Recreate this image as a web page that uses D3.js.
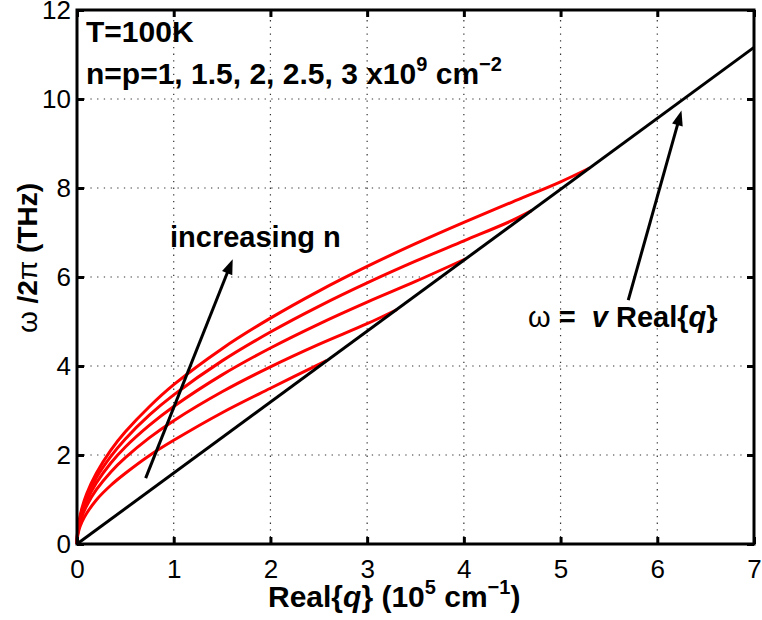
<!DOCTYPE html>
<html>
<head>
<meta charset="utf-8">
<script src="https://cdn.jsdelivr.net/npm/d3@7"></script>
<style>
body { margin: 0; background: #fff; }
text { font-family: "Liberation Sans", Arial, Helvetica, sans-serif; fill: #000; }
</style>
</head>
<body>
<div id="chart"></div>
<script>
// wavevector samples (10^5 cm^-1) shared by the red curves
const qGrid = [0, 0.005, 0.02, 0.05, 0.1, 0.2, 0.35, 0.5, 0.75, 1, 1.5, 2, 2.5, 3, 3.5, 4, 4.5, 5]

// omega/2pi (THz) for n=p = 1, 1.5, 2, 2.5, 3 x10^9 cm^-2
const omegaN1 = [0, 0.154, 0.31, 0.49, 0.69, 0.99, 1.32, 1.59, 1.99, 2.33, 2.95, 3.5]
const omegaN15 = [0, 0.19, 0.385, 0.61, 0.86, 1.22, 1.62, 1.94, 2.39, 2.77, 3.42, 3.98, 4.485, 4.95]
const omegaN2 = [0, 0.217, 0.43, 0.69, 0.97, 1.37, 1.82, 2.18, 2.67, 3.09, 3.8, 4.405, 4.943, 5.436, 5.9]
const omegaN25 = [0, 0.236, 0.47, 0.745, 1.05, 1.49, 1.97, 2.36, 2.9, 3.35, 4.115, 4.764, 5.341, 5.867, 6.355, 6.812, 7.27]
const omegaN3 = [0, 0.25, 0.5, 0.8, 1.13, 1.59, 2.11, 2.52, 3.09, 3.58, 4.39, 5.075, 5.684, 6.238, 6.749, 7.228, 7.685, 8.14]

// where each curve meets the omega = v q line
const qEnd = [2.58, 3.31, 4.02, 4.7, 5.3]
const omegaEnd = [4.12, 5.27, 6.41, 7.49, 8.45]

// omega = v Real{q}
const lineQ = [0, 7]
const lineOmega = [0, 11.16]

// annotation arrows: [tail, head] in data units
const arrowIncreasing = [[0.71, 1.48], [1.61, 6.4]]
const arrowLine = [[5.7, 5.48], [6.25, 9.74]]

const xTicks = [0, 1, 2, 3, 4, 5, 6, 7]
const yTicks = [0, 2, 4, 6, 8, 10, 12]

const width = 762, height = 620
const margin = { left: 77, right: 8, top: 10, bottom: 76 }

const svg = d3.select("#chart").append("svg").attr("width", width).attr("height", height)

const x = d3.scaleLinear().domain([0, 7]).range([margin.left, width - margin.right])
const y = d3.scaleLinear().domain([0, 12]).range([height - margin.bottom, margin.top])

// dotted grid
const grid = svg.append("g")
grid.selectAll(".gx")
	.data(xTicks.slice(1, -1))
	.enter()
	.append("line")
	.attr("x1", d => x(d)).attr("x2", d => x(d))
	.attr("y1", y(0)).attr("y2", y(12))
grid.selectAll(".gy")
	.data(yTicks.slice(1, -1))
	.enter()
	.append("line")
	.attr("y1", d => y(d)).attr("y2", d => y(d))
	.attr("x1", x(0)).attr("x2", x(7))
grid.selectAll("line")
	.attr("stroke", "#333")
	.attr("stroke-width", 1.2)
	.attr("stroke-dasharray", "1.3,5.4")

// curves
const curves = [omegaN1, omegaN15, omegaN2, omegaN25, omegaN3].map((om, i) =>
	om.map((w, j) => [qGrid[j], w]).concat([[qEnd[i], omegaEnd[i]]]))

const line = d3.line().x(d => x(d[0])).y(d => y(d[1])).curve(d3.curveCatmullRom.alpha(0.5))

svg.append("g")
	.selectAll("path")
	.data(curves)
	.enter()
	.append("path")
	.attr("d", line)
	.attr("fill", "none")
	.attr("stroke", "#ff0000")
	.attr("stroke-width", 3)

svg.append("path")
	.attr("d", d3.line().x(d => x(d[0])).y(d => y(d[1]))(lineQ.map((q, i) => [q, lineOmega[i]])))
	.attr("fill", "none")
	.attr("stroke", "#000")
	.attr("stroke-width", 3)

// arrows
function drawArrow(pts) {
	const [x0, y0] = [x(pts[0][0]), y(pts[0][1])]
	const [x1, y1] = [x(pts[1][0]), y(pts[1][1])]
	const len = Math.hypot(x1 - x0, y1 - y0)
	const ux = (x1 - x0) / len, uy = (y1 - y0) / len
	const headL = 15, headW = 5.5
	const bx = x1 - ux * headL, by = y1 - uy * headL
	svg.append("line")
		.attr("x1", x0).attr("y1", y0)
		.attr("x2", bx + ux * 2).attr("y2", by + uy * 2)
		.attr("stroke", "#000")
		.attr("stroke-width", 3)
	svg.append("path")
		.attr("d", `M${x1},${y1}L${bx - uy * headW},${by + ux * headW}L${bx + uy * headW},${by - ux * headW}Z`)
		.attr("fill", "#000")
}
drawArrow(arrowIncreasing)
drawArrow(arrowLine)

// axes with inward ticks on all four sides
svg.append("g")
	.attr("transform", `translate(0,${y(0)})`)
	.call(d3.axisBottom(x).tickValues(xTicks).tickFormat(d3.format("d")).tickSize(-7).tickSizeOuter(0).tickPadding(16))
svg.append("g")
	.attr("transform", `translate(${x(0)},0)`)
	.call(d3.axisLeft(y).tickValues(yTicks).tickFormat(d3.format("d")).tickSize(-7).tickSizeOuter(0).tickPadding(6))
svg.append("g")
	.attr("transform", `translate(0,${y(12)})`)
	.call(d3.axisTop(x).tickValues(xTicks).tickSize(-7).tickSizeOuter(0).tickFormat(""))
svg.append("g")
	.attr("transform", `translate(${x(7)},0)`)
	.call(d3.axisRight(y).tickValues(yTicks).tickSize(-7).tickSizeOuter(0).tickFormat(""))

svg.selectAll(".tick line").attr("stroke", "#000").attr("stroke-width", 3)
svg.selectAll(".domain").remove()
svg.selectAll(".tick text")
	.style("font-family", "'Liberation Sans', Arial, sans-serif")
	.style("font-size", "26px")
	.attr("fill", "#000")

svg.append("rect")
	.attr("x", x(0)).attr("y", y(12))
	.attr("width", x(7) - x(0)).attr("height", y(0) - y(12))
	.attr("fill", "none")
	.attr("stroke", "#000")
	.attr("stroke-width", 3)

// labels
const bold = sel => sel.style("font-weight", "bold")

const xl = svg.append("text").attr("x", 268).attr("y", 607).style("font-size", "30px").call(bold)
xl.append("tspan").text("Real{")
xl.append("tspan").style("font-style", "italic").text("q")
xl.append("tspan").text("} (10")
xl.append("tspan").attr("dy", -13).style("font-size", "20px").text("5")
xl.append("tspan").attr("dy", 13).text(" cm")
xl.append("tspan").attr("dy", -13).style("font-size", "20px").text("\u22121")
xl.append("tspan").attr("dy", 13).text(")")

const yl = svg.append("text")
	.attr("transform", "translate(37,258) rotate(-90)")
	.attr("text-anchor", "middle")
	.style("font-size", "28px")
yl.append("tspan").text("\u03c9 ")
yl.append("tspan").style("font-weight", "bold").text("/2")
yl.append("tspan").text("\u03c0 ")
yl.append("tspan").style("font-weight", "bold").text("(THz)")

svg.append("text").attr("x", 86).attr("y", 42).style("font-size", "30px").call(bold).text("T=100K")

const nt = svg.append("text").attr("x", 86).attr("y", 84).style("font-size", "30px").call(bold)
nt.append("tspan").text("n=p=1, 1.5, 2, 2.5, 3 x10")
nt.append("tspan").attr("dy", -13).style("font-size", "20px").text("9")
nt.append("tspan").attr("dy", 13).text(" cm")
nt.append("tspan").attr("dy", -13).style("font-size", "20px").text("\u22122")

svg.append("text").attr("x", 170).attr("y", 247).style("font-size", "29px").call(bold).text("increasing n")

const wt = svg.append("text").attr("x", 528).attr("y", 327).style("font-size", "29px")
wt.append("tspan").text("\u03c9 ")
wt.append("tspan").style("font-weight", "bold").text("=\u00a0\u00a0")
wt.append("tspan").style("font-weight", "bold").style("font-style", "italic").text("v")
wt.append("tspan").style("font-weight", "bold").text(" Real{")
wt.append("tspan").style("font-weight", "bold").style("font-style", "italic").text("q")
wt.append("tspan").style("font-weight", "bold").text("}")
</script>
</body>
</html>
